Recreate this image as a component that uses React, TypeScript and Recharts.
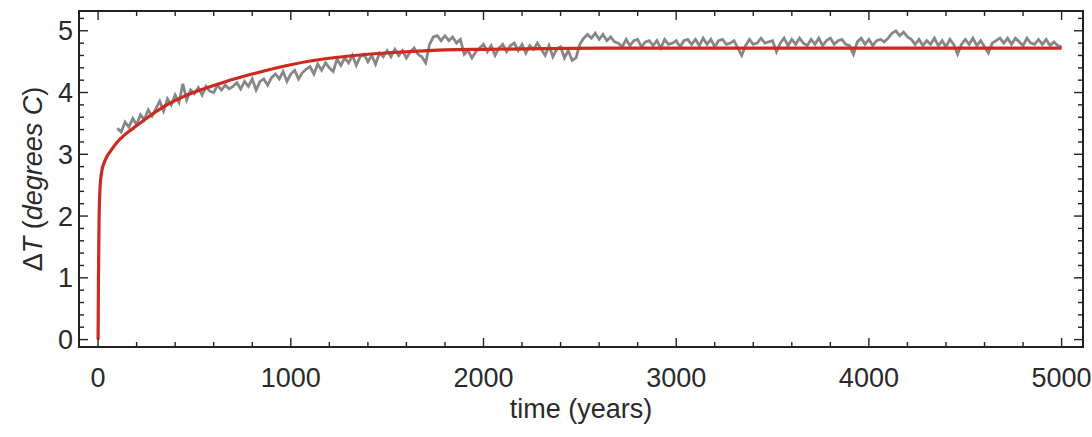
import { LineChart, Line, XAxis, YAxis, ReferenceArea } from 'recharts';

// frame layout (px)
const W = 1092;
const H = 437;
const M = { top: 11, right: 9, bottom: 0, left: 0 };
const Y_AXIS_W = 79;
const X_AXIS_H = 90;
const PLOT_LEFT = M.left + Y_AXIS_W;
const PLOT_RIGHT = W - M.right;
const PLOT_TOP = M.top;
const PLOT_BOTTOM = H - M.bottom - X_AXIS_H;

const FONT = '"Liberation Sans", Arial, sans-serif';
const INK = '#222';

const X_DOMAIN = [-99, 5111];
const Y_DOMAIN = [-0.12, 5.32];

const xTicks = [0, 200, 400, 600, 800, 1000, 1200, 1400, 1600, 1800, 2000, 2200, 2400, 2600, 2800,
    3000, 3200, 3400, 3600, 3800, 4000, 4200, 4400, 4600, 4800, 5000];
const yTicks = [0, 0.2, 0.4, 0.6, 0.8, 1, 1.2, 1.4, 1.6, 1.8, 2, 2.2, 2.4, 2.6, 2.8, 3, 3.2, 3.4, 3.6,
    3.8, 4, 4.2, 4.4, 4.6, 4.8, 5, 5.2];
const xLabels = [0, 1000, 2000, 3000, 4000, 5000];
const yLabels = [0, 1, 2, 3, 4, 5];

// simulated run, sampled every 20 years from year 100
const simStart = 100;
const simStep = 20;
const simValues = [
    3.42, 3.36, 3.52, 3.44, 3.58, 3.48, 3.64, 3.56, 3.72, 3.62,
    3.74, 3.86, 3.70, 3.90, 3.80, 3.96, 3.84, 4.14, 3.88, 4.04,
    3.98, 4.08, 3.96, 4.10, 4.02, 4.00, 4.12, 4.04, 4.12, 4.06,
    4.10, 4.16, 4.06, 4.18, 4.10, 4.22, 4.04, 4.18, 4.22, 4.12,
    4.24, 4.30, 4.22, 4.34, 4.18, 4.30, 4.36, 4.22, 4.32, 4.38,
    4.42, 4.30, 4.46, 4.36, 4.48, 4.40, 4.34, 4.54, 4.44, 4.56,
    4.48, 4.60, 4.44, 4.58, 4.62, 4.50, 4.60, 4.46, 4.64, 4.58,
    4.68, 4.58, 4.70, 4.60, 4.68, 4.56, 4.66, 4.72, 4.62, 4.58,
    4.48, 4.78, 4.90, 4.92, 4.84, 4.92, 4.84, 4.90, 4.80, 4.86,
    4.62, 4.68, 4.56, 4.66, 4.72, 4.78, 4.66, 4.76, 4.60, 4.72,
    4.78, 4.66, 4.76, 4.80, 4.68, 4.78, 4.64, 4.76, 4.70, 4.80,
    4.70, 4.60, 4.76, 4.58, 4.70, 4.74, 4.56, 4.68, 4.52, 4.56,
    4.78, 4.88, 4.94, 4.88, 4.96, 4.86, 4.94, 4.84, 4.90, 4.82,
    4.80, 4.74, 4.86, 4.76, 4.84, 4.86, 4.74, 4.82, 4.84, 4.76,
    4.84, 4.72, 4.86, 4.78, 4.80, 4.84, 4.74, 4.84, 4.86, 4.78,
    4.86, 4.76, 4.88, 4.78, 4.86, 4.74, 4.84, 4.86, 4.78, 4.80,
    4.84, 4.72, 4.60, 4.76, 4.86, 4.78, 4.80, 4.88, 4.80, 4.82,
    4.84, 4.66, 4.80, 4.88, 4.76, 4.86, 4.78, 4.88, 4.80, 4.76,
    4.86, 4.78, 4.88, 4.76, 4.84, 4.88, 4.78, 4.84, 4.86, 4.78,
    4.76, 4.62, 4.82, 4.88, 4.78, 4.86, 4.76, 4.84, 4.86, 4.82,
    4.88, 4.96, 5.00, 4.92, 4.98, 4.90, 4.86, 4.78, 4.86, 4.76,
    4.84, 4.78, 4.88, 4.76, 4.84, 4.74, 4.86, 4.78, 4.62, 4.78,
    4.86, 4.78, 4.88, 4.76, 4.84, 4.74, 4.64, 4.80, 4.84, 4.88,
    4.80, 4.88, 4.78, 4.88, 4.82, 4.76, 4.88, 4.80, 4.78, 4.86,
    4.78, 4.86, 4.76, 4.82, 4.76, 4.74,
];

// fitted response curve
const fitYears = [0, 2, 5, 10, 20, 30, 45, 62, 100, 140, 182, 250, 357, 440, 529, 620, 701, 800, 876,
    1000, 1100, 1200, 1400, 1600, 1800, 2000, 2300, 2600, 3000, 4000, 5000];
const fitValues = [0, 1.0, 1.9, 2.45, 2.74, 2.85, 2.96, 3.04, 3.2, 3.32, 3.42, 3.58, 3.8, 3.93, 4.04,
    4.135, 4.215, 4.30, 4.36, 4.45, 4.51, 4.555, 4.62, 4.66, 4.69, 4.70, 4.71, 4.72, 4.72, 4.72, 4.72];

const simData = simValues.map((v, i) => ({ t: simStart + i * simStep, v }));
const fitData = fitYears.map((t, i) => ({ t, v: fitValues[i] }));

const XTick = (props: any) => {
    const { x, payload } = props;
    const v = payload.value;
    const major = xLabels.includes(v);
    const len = major ? 9 : 5;
    return (
        <g>
            <line x1={x} x2={x} y1={PLOT_BOTTOM} y2={PLOT_BOTTOM - len} stroke={INK} strokeWidth={1.4} />
            <line x1={x} x2={x} y1={PLOT_TOP} y2={PLOT_TOP + len} stroke={INK} strokeWidth={1.4} />
            {major && (
                <text x={x} y={PLOT_BOTTOM + 40} textAnchor="middle" fontSize={27} fontFamily={FONT} fill="#2a2a2a">
                    {v}
                </text>
            )}
        </g>
    );
};

const YTick = (props: any) => {
    const { y, payload } = props;
    const v = payload.value;
    const major = yLabels.includes(v);
    const len = major ? 9 : 5;
    return (
        <g>
            <line x1={PLOT_LEFT} x2={PLOT_LEFT + len} y1={y} y2={y} stroke={INK} strokeWidth={1.4} />
            <line x1={PLOT_RIGHT} x2={PLOT_RIGHT - len} y1={y} y2={y} stroke={INK} strokeWidth={1.4} />
            {major && (
                <text x={PLOT_LEFT - 6} y={y + 9.5} textAnchor="end" fontSize={27} fontFamily={FONT} fill="#2a2a2a">
                    {v}
                </text>
            )}
        </g>
    );
};

export default function App() {
    const midY = (PLOT_TOP + PLOT_BOTTOM) / 2;
    const midX = (PLOT_LEFT + PLOT_RIGHT) / 2;
    return (
        <div style={{ position: 'absolute', left: 0, top: 0, width: W, height: H, background: '#fff' }}>
            <LineChart width={W} height={H} margin={M}>
                <XAxis
                    type="number"
                    dataKey="t"
                    domain={X_DOMAIN}
                    allowDataOverflow
                    ticks={xTicks}
                    interval={0}
                    tick={<XTick />}
                    tickLine={false}
                    axisLine={false}
                    height={X_AXIS_H}
                />
                <YAxis
                    type="number"
                    domain={Y_DOMAIN}
                    allowDataOverflow
                    ticks={yTicks}
                    interval={0}
                    tick={<YTick />}
                    tickLine={false}
                    axisLine={false}
                    width={Y_AXIS_W}
                />
                <Line
                    data={simData}
                    dataKey="v"
                    type="linear"
                    stroke="#878787"
                    strokeWidth={2.8}
                    strokeLinejoin="miter"
                    dot={false}
                    isAnimationActive={false}
                />
                <Line
                    data={fitData}
                    dataKey="v"
                    type="monotone"
                    stroke="#cc2a20"
                    strokeWidth={3.2}
                    dot={false}
                    isAnimationActive={false}
                />
                <ReferenceArea
                    x1={X_DOMAIN[0]}
                    x2={X_DOMAIN[1]}
                    y1={Y_DOMAIN[0]}
                    y2={Y_DOMAIN[1]}
                    fill="none"
                    stroke={INK}
                    strokeWidth={2}
                    ifOverflow="visible"
                />
            </LineChart>
            <svg width={W} height={H} style={{ position: 'absolute', left: 0, top: 0, pointerEvents: 'none' }}>
                <text x={midX} y={PLOT_BOTTOM + 71} textAnchor="middle" fontSize={27} fontFamily={FONT} fill="#2a2a2a">
                    time (years)
                </text>
                <text
                    transform={`translate(42, ${midY}) rotate(-90)`}
                    textAnchor="middle"
                    fontSize={27}
                    fontFamily={FONT}
                    fill="#2a2a2a"
                >
                    Δ<tspan fontStyle="italic">T</tspan>{'  '}
                    <tspan>(</tspan>
                    <tspan fontStyle="italic">degrees C</tspan>
                    <tspan>)</tspan>
                </text>
            </svg>
        </div>
    );
}
